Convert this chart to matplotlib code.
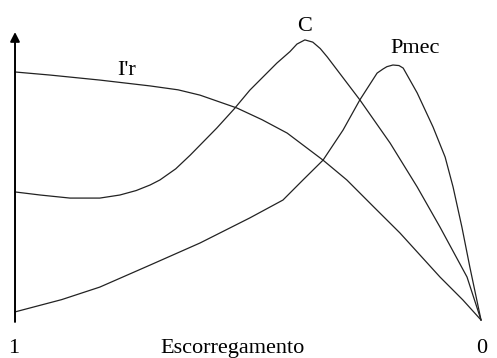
import numpy as np
from matplotlib import pyplot as plt

# slip (1 = rotor stopped, 0 = synchronous) and curve values in relative units
s_ir = [1.000, 0.925, 0.818, 0.710, 0.650, 0.603, 0.524, 0.470, 0.416, 0.339, 0.288,
        0.230, 0.174, 0.088, 0.039, 0.0]
ir = [88.9, 87.8, 86.0, 83.9, 82.5, 80.6, 76.0, 71.8, 67.0, 57.3, 50.2,
      40.5, 31.2, 15.4, 7.2, 0.0]

s_c = [1.000, 0.946, 0.882, 0.818, 0.775, 0.740, 0.710, 0.689, 0.655, 0.624, 0.567,
       0.530, 0.496, 0.438, 0.410, 0.395, 0.378, 0.361, 0.345, 0.330, 0.260, 0.195,
       0.137, 0.088, 0.030, 0.0]
c = [45.9, 44.8, 43.7, 43.7, 44.8, 46.4, 48.4, 50.2, 54.2, 59.1, 68.8,
     75.6, 82.4, 92.1, 96.2, 98.9, 100.4, 99.6, 97.3, 94.3, 78.9, 63.4,
     47.7, 33.3, 15.4, 0.0]

s_p = [1.000, 0.900, 0.818, 0.710, 0.603, 0.496, 0.425, 0.382, 0.339, 0.296, 0.260,
       0.223, 0.210, 0.202, 0.189, 0.176, 0.167, 0.137, 0.103, 0.077, 0.060, 0.041,
       0.024, 0.0]
pmec = [2.9, 7.3, 11.8, 19.7, 27.6, 36.6, 43.0, 50.2, 57.3, 68.1, 78.9,
        88.5, 90.0, 90.8, 91.4, 91.2, 90.3, 81.4, 69.2, 58.4, 47.7, 33.3,
        19.0, 0.0]

plt.rcParams['font.family'] = 'serif'
plt.rcParams['font.serif'] = ['Liberation Serif', 'Times New Roman', 'DejaVu Serif']

fig = plt.figure(figsize=(4.97, 3.58), dpi=100)
ax = fig.add_axes([0, 0, 1, 1])
ax.set_xlim(1.0322, -0.0343)
ax.set_ylim(-13.62, 114.7)
ax.axis('off')

for xs, ys in [(s_ir, ir), (s_c, c), (s_p, pmec)]:
    ax.plot(xs, ys, color='#222222', lw=0.9, solid_joinstyle='round')

# axes with arrow heads
arr = dict(arrowstyle='-|>,head_length=0.55,head_width=0.28', lw=1.4,
           color='black', shrinkA=0, shrinkB=0)
ax.annotate('', xy=(-0.037, -0.7), xytext=(1.0, -0.7), arrowprops=arr)
ax.annotate('', xy=(1.0, 103.2), xytext=(1.0, -0.7), arrowprops=arr)

fs = 16
ax.text(0.760, 87.8, "I'r", fontsize=fs, ha='center', va='baseline')
ax.text(0.378, 103.6, 'C', fontsize=fs, ha='center', va='baseline')
ax.text(0.142, 95.7, 'Pmec', fontsize=fs, ha='center', va='baseline')
ax.text(1.002, -11.8, '1', fontsize=fs, ha='center', va='baseline')
ax.text(-0.002, -11.8, '0', fontsize=fs, ha='center', va='baseline')
ax.text(0.534, -11.8, 'Escorregamento', fontsize=fs, ha='center', va='baseline')

fig.savefig('out.png', dpi=100)
